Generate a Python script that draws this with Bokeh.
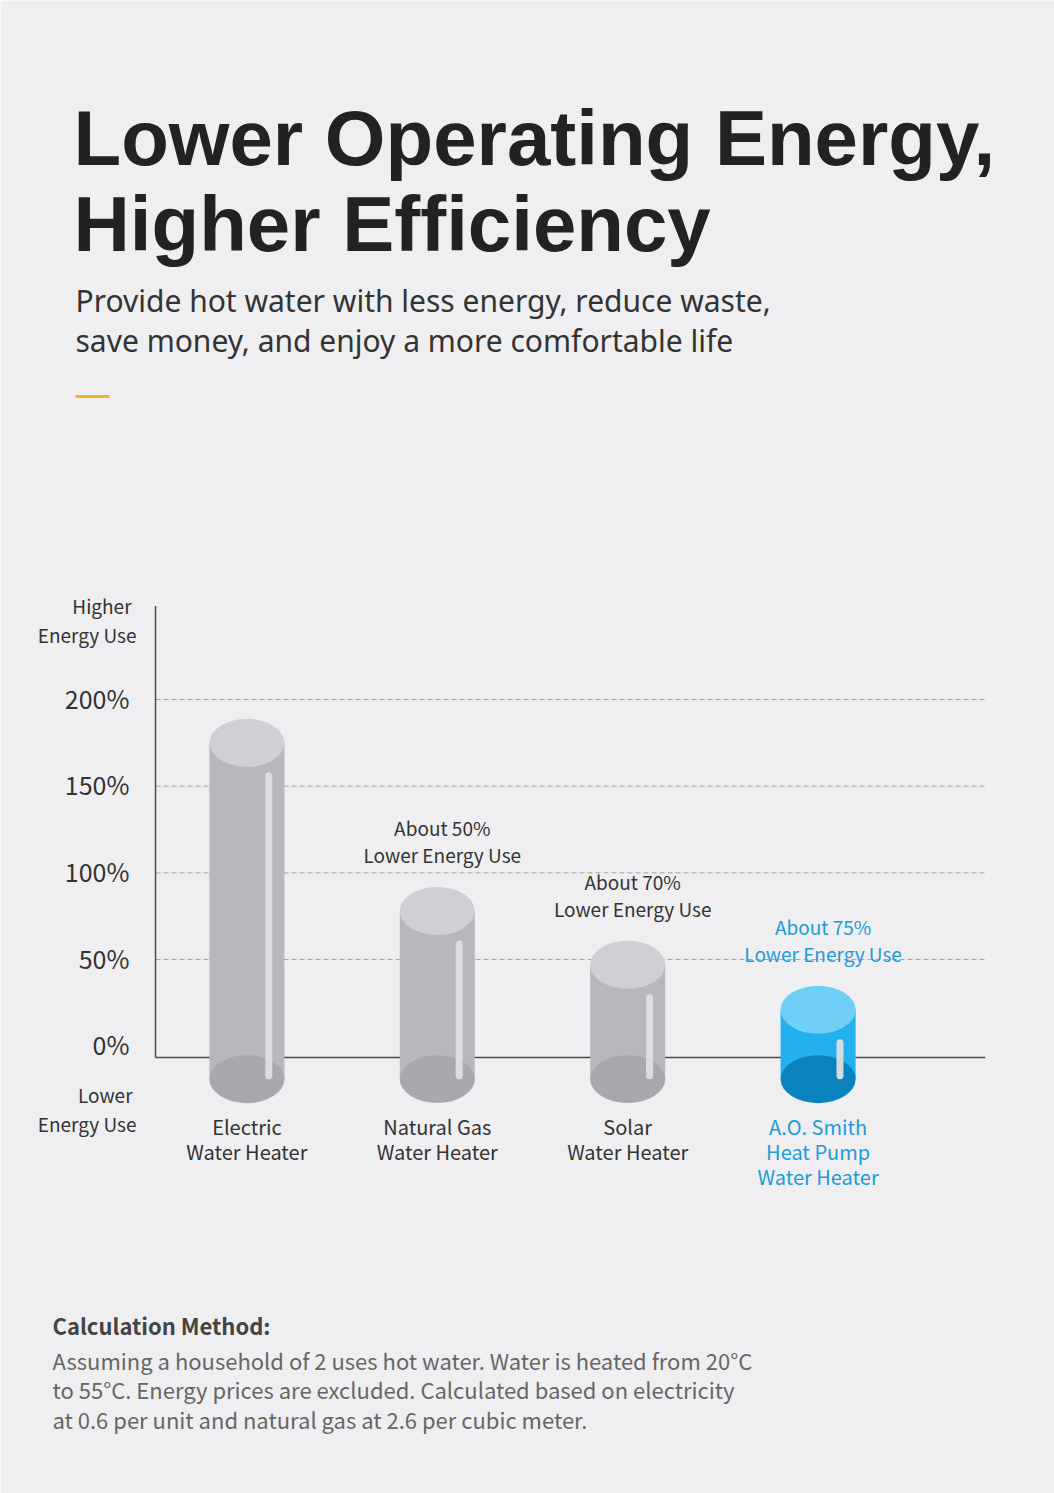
from bokeh.plotting import figure
from bokeh.models import ColumnDataSource, Range1d, Label, BoxAnnotation
from bokeh.core.properties import value
from bokeh.embed import file_html
from bokeh.resources import INLINE

# ---------------- data ----------------
categories = ["Electric\nWater Heater", "Natural Gas\nWater Heater",
              "Solar\nWater Heater", "A.O. Smith\nHeat Pump\nWater Heater"]
energy_use = [175, 78, 47, 21]          # relative energy use, %
notes = ["", "About 50%\nLower Energy Use", "About 70%\nLower Energy Use",
         "About 75%\nLower Energy Use"]
highlight = [False, False, False, True]
y_ticks = [0, 50, 100, 150, 200]
y_tick_labels = ["0%", "50%", "100%", "150%", "200%"]

title_lines = ["Lower Operating Energy,", "Higher Efficiency"]
subtitle_lines = ["Provide hot water with less energy, reduce waste,",
                  "save money, and enjoy a more comfortable life"]
method_title = "Calculation Method:"
method_lines = ["Assuming a household of 2 uses hot water. Water is heated from 20°C",
                "to 55°C. Energy prices are excluded. Calculated based on electricity",
                "at 0.6 per unit and natural gas at 2.6 per cubic meter."]

# ---------------- layout / style ----------------
W, H = 1054, 1493
BG = "#efeff1"
CHART_FONT_NAME = "Noto Sans CJK SC"
CHART_FONT = value(CHART_FONT_NAME)
DARK = "#333333"
BLUE_TXT = "#1d9bd8"

X0_PX, X_STEP_PX = 246.4, 190.4          # category centre positions on page
ZERO_ROW, PX_PER_PCT = 1045.7, 86.67 / 50  # y scale on page
x_range = Range1d(-X0_PX / X_STEP_PX, (W - X0_PX) / X_STEP_PX)
y_range = Range1d((ZERO_ROW - H) / PX_PER_PCT, ZERO_ROW / PX_PER_PCT)

AX_L, AX_R = -0.48, 3.878       # axis extent (category units)
AX_BOTTOM, AX_TOP = -6.5, 254   # axis extent (% units)
BASE = -19                      # cylinder bottom (%)
CYL_W = 0.394

p = figure(width=W, height=H, x_range=x_range, y_range=y_range,
           output_backend="svg", toolbar_location=None,
           x_axis_location=None, y_axis_location=None,
           min_border=0, min_border_left=0, min_border_right=0,
           min_border_top=0, min_border_bottom=0,
           background_fill_color=BG, border_fill_color=BG,
           outline_line_color=None)
p.grid.visible = False

xs = list(range(len(categories)))
src = ColumnDataSource(dict(
    x=xs, v=energy_use, cat=categories, note=notes,
    base=[BASE] * len(xs),
    body=["#22b0ef" if h else "#b6b8bd" for h in highlight],
    top=["#70cff6" if h else "#cfd0d3" for h in highlight],
    bot=["#0a82bd" if h else "#a7a9ae" for h in highlight],
    txt=[BLUE_TXT if h else DARK for h in highlight],
    sx=[x + 0.115 for x in xs],
    s0=[BASE + 2] * len(xs),
    s1=[v - 19 for v in energy_use],
))

# gridlines
grid_vals = [t for t in y_ticks if t > 0]
p.segment(x0=[AX_L] * len(grid_vals), x1=[AX_R] * len(grid_vals),
          y0=grid_vals, y1=grid_vals, line_color="#a4a4a8",
          line_dash="5 3", line_width=1)
# axes lines
p.segment(x0=[AX_L], x1=[AX_R], y0=[AX_BOTTOM], y1=[AX_BOTTOM],
          line_color="#4a4a4a", line_width=1.5)
p.segment(x0=[AX_L], x1=[AX_L], y0=[AX_BOTTOM], y1=[AX_TOP],
          line_color="#4a4a4a", line_width=1.5)

# tick labels
p.text(x=[AX_L] * len(y_ticks), y=y_ticks, text=y_tick_labels,
       x_offset=-26, y_offset=-2, text_align="right", text_baseline="middle",
       text_font=CHART_FONT, text_font_size="25px", text_color=DARK)

# cylinders
p.vbar(x="x", width=CYL_W, bottom="base", top="v", source=src,
       fill_color="body", line_color=None)
p.ellipse(x="x", y="base", width=CYL_W, height=48, height_units="screen",
          source=src, fill_color="bot", line_color=None)
p.ellipse(x="x", y="v", width=CYL_W, height=48, height_units="screen",
          source=src, fill_color="top", line_color=None)
p.segment(x0="sx", x1="sx", y0="s0", y1="s1", source=src,
          line_color="#dedfe2", line_width=7, line_cap="round", line_alpha=0.95)

# category labels & notes
p.text(x="x", y="base", text="cat", source=src, y_offset=33,
       text_align="center", text_baseline="top", text_font=CHART_FONT,
       text_font_size="20px", text_color="txt", text_line_height=0.86)
p.text(x="x", y="v", text="note", source=src, x_offset=5, y_offset=-43,
       text_align="center", text_baseline="bottom", text_font=CHART_FONT,
       text_font_size="19px", text_color="txt", text_line_height=1.0)

# axis end captions
def lab(x, row, text, size, color=DARK, align="left", font=CHART_FONT_NAME,
        style="normal", baseline="middle"):
    p.add_layout(Label(x=x, y=H - row, x_units="screen", y_units="screen",
                       text=text, text_font=font, text_font_size=size,
                       text_color=color, text_align=align,
                       text_baseline=baseline, text_font_style=style))

lab(131, 605, "Higher", "19px", align="right")
lab(136, 634, "Energy Use", "19px", align="right")
lab(132, 1094, "Lower", "19px", align="right")
lab(136, 1123, "Energy Use", "19px", align="right")

# header
lab(73, 137, title_lines[0], "78px", color="#222222", font="Liberation Sans",
    style="bold", baseline="alphabetic")
lab(73, 223, title_lines[1], "78px", color="#222222", font="Liberation Sans",
    style="bold", baseline="alphabetic")
lab(75, 300, subtitle_lines[0], "30px", color="#333333", font="Noto Sans",
    baseline="alphabetic")
lab(75, 340, subtitle_lines[1], "30px", color="#333333", font="Noto Sans",
    baseline="alphabetic")
p.add_layout(BoxAnnotation(left=75, right=109, bottom=H - 397.5, top=H - 394.5,
                           left_units="screen", right_units="screen",
                           bottom_units="screen", top_units="screen",
                           fill_color="#f0b323", fill_alpha=1, line_color=None))

# footer
lab(52, 1324, method_title, "22px", color="#444444", style="bold")
for k, line in enumerate(method_lines):
    lab(52, 1359 + 29.5 * k, line, "22px", color="#666666")

open("out.html", "w").write(file_html(p, INLINE))
